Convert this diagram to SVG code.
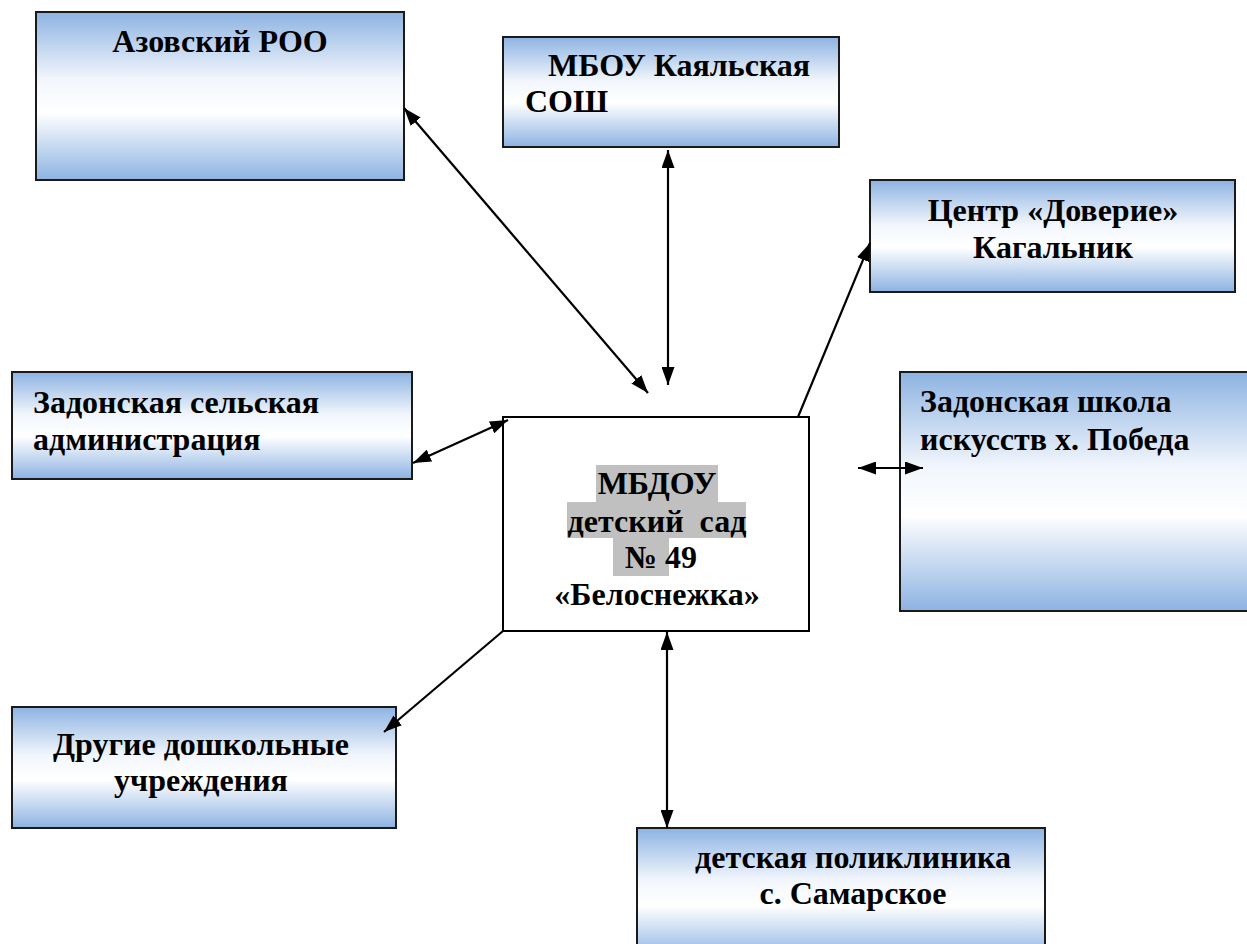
<svg xmlns="http://www.w3.org/2000/svg" width="1247" height="944" viewBox="0 0 1247 944">
<defs>
<linearGradient id="bg" x1="0" y1="0" x2="0" y2="1">
<stop offset="0" stop-color="#8DB3E2"/>
<stop offset="0.4" stop-color="#F2F6FC"/>
<stop offset="0.6" stop-color="#FFFFFF"/>
<stop offset="1" stop-color="#8DB3E2"/>
</linearGradient>
<marker id="ah" viewBox="0 0 18 13" refX="18" refY="6.5" markerWidth="18" markerHeight="13" markerUnits="userSpaceOnUse" orient="auto-start-reverse">
<path d="M0,0 L18,6.5 L0,13 Z" fill="#000"/>
</marker>
</defs>
<style>
.box{fill:url(#bg);stroke:#1a1a1a;stroke-width:2}
.t{font-family:'Liberation Serif','Times New Roman',serif;font-weight:bold;font-size:32px;fill:#000;white-space:pre}
.c{text-anchor:middle}
.ln{stroke:#000;stroke-width:2.2;fill:none}
</style>
<rect width="1247" height="944" fill="#fff"/>
<g id="azov">
<rect class="box" x="36" y="12" width="368" height="168"/>
<text class="t c" x="220" y="52">Азовский РОО</text>
</g>
<g id="kayal">
<rect class="box" x="503" y="37" width="336" height="110"/>
<text class="t" x="548" y="76">МБОУ Каяльская</text>
<text class="t" x="525" y="112">СОШ</text>
</g>
<g id="doverie">
<rect class="box" x="870" y="180" width="365" height="112"/>
<text class="t c" x="1053" y="221">Центр «Доверие»</text>
<text class="t c" x="1053" y="258">Кагальник</text>
</g>
<g id="admin">
<rect class="box" x="12" y="372" width="400" height="107"/>
<text class="t" x="33" y="413">Задонская сельская</text>
<text class="t" x="33" y="450">администрация</text>
</g>
<g id="shkola">
<rect class="box" x="900" y="372" width="360" height="239"/>
<text class="t" x="920" y="412">Задонская школа</text>
<text class="t" x="920" y="450">искусств х. Победа</text>
</g>
<g id="center">
<rect x="503" y="417" width="306" height="214" fill="#fff" stroke="#000" stroke-width="2"/>
<rect x="596" y="465" width="122" height="37" fill="#C0C0C0"/>
<rect x="567" y="502" width="179" height="36" fill="#C0C0C0"/>
<rect x="613" y="538" width="56" height="38" fill="#C0C0C0"/>
<text class="t c" x="657" y="494">МБДОУ</text>
<text class="t c" x="657" y="532">детский  сад</text>
<text class="t c" x="657" y="568"> № 49</text>
<text class="t c" x="657" y="605">«Белоснежка»</text>
</g>
<g id="other">
<rect class="box" x="12" y="707" width="384" height="121"/>
<text class="t c" x="201" y="755">Другие дошкольные</text>
<text class="t c" x="201" y="791">учреждения</text>
</g>
<g id="clinic">
<rect class="box" x="637" y="828" width="408" height="130"/>
<text class="t c" x="853" y="868">детская поликлиника</text>
<text class="t c" x="853" y="904">с. Самарское</text>
</g>
<g id="connectors">
<line class="ln" x1="404" y1="108" x2="648" y2="393" marker-start="url(#ah)" marker-end="url(#ah)"/>
<line class="ln" x1="668" y1="150" x2="668" y2="385" marker-start="url(#ah)" marker-end="url(#ah)"/>
<line class="ln" x1="798" y1="417" x2="870" y2="243" marker-end="url(#ah)"/>
<line class="ln" x1="413" y1="463" x2="508" y2="420" marker-start="url(#ah)" marker-end="url(#ah)"/>
<line class="ln" x1="858" y1="468" x2="923" y2="468" marker-start="url(#ah)" marker-end="url(#ah)"/>
<line class="ln" x1="503" y1="631" x2="384" y2="732" marker-end="url(#ah)"/>
<line class="ln" x1="667" y1="632" x2="667" y2="828" marker-start="url(#ah)" marker-end="url(#ah)"/>
</g>
</svg>
